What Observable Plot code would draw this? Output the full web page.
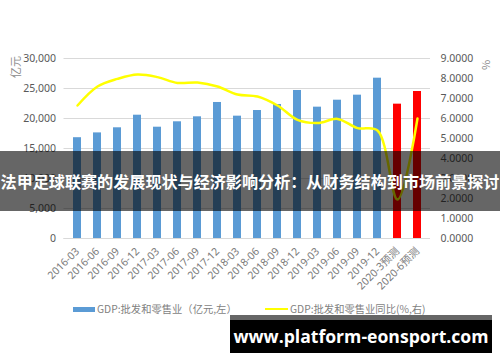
<!DOCTYPE html>
<html>
<head>
<meta charset="utf-8">
<script src="https://cdn.jsdelivr.net/npm/d3@7"></script>
<script src="https://cdn.jsdelivr.net/npm/@observablehq/plot@0.6"></script>
<style>
  body { margin: 0; background: #fff; }
  #wrap { position: relative; width: 500px; height: 362px; overflow: hidden; font-family: "Noto Sans CJK SC", "Noto Sans", sans-serif; }
  #band { position: absolute; left: 0; top: 151px; width: 500px; height: 60px; background: rgba(0,0,0,0.6);
          color: #fff; font-weight: bold; font-size: 16.1px; line-height: 60px; text-align: center; white-space: nowrap; letter-spacing: 0; font-family: "Noto Sans CJK SC", sans-serif; }
  #wm { position: absolute; left: 230px; top: 315px; width: 262px; height: 38px; background: #000; border-top: 5px solid #666; box-sizing: border-box;
        color: #fff; font-family: "Open Sans", "DejaVu Sans", sans-serif; font-weight: bold; font-size: 17.6px; line-height: 32px; text-align: center; white-space: nowrap; }
  .leg { position: absolute; top: 301px; font-size: 10.3px; color: #7f7f7f; white-space: nowrap; line-height: 16px; }
  .sw { position: absolute; }
  .axt { position: absolute; font-size: 11px; color: #8c8c8c; white-space: nowrap; }
</style>
</head>
<body>
<div id="wrap">
  <div id="chart"></div>
  <div class="axt" style="left:4px;top:59px;transform:rotate(-90deg);transform-origin:center;">亿元</div>
  <div class="axt" style="left:480px;top:57px;transform:rotate(-90deg);transform-origin:center;">%</div>
  <div class="sw" style="left:73px;top:307px;width:22px;height:5px;background:#5B9BD5;"></div>
  <div class="leg" style="left:97px;">GDP:批发和零售业（亿元,左）</div>
  <div class="sw" style="left:265px;top:308px;width:23px;height:2px;background:#FFFF00;"></div>
  <div class="leg" style="left:290px;">GDP:批发和零售业同比(%,右)</div>
  <div id="band">法甲足球联赛的发展现状与经济影响分析：从财务结构到市场前景探讨</div>
  <div id="wm">www.platform-eonsport.com</div>
</div>
<script>
const periods = ["2016-03","2016-06","2016-09","2016-12","2017-03","2017-06","2017-09","2017-12","2018-03","2018-06","2018-09","2018-12","2019-03","2019-06","2019-09","2019-12","2020-3预测","2020-6预测"];
const gdpValue = [16800,17600,18450,20550,18550,19450,20280,22670,20390,21330,22330,24670,21890,23050,23890,26720,22390,24500];
const gdpYoY = [6.65,7.6,7.98,8.2,8.07,7.78,7.8,7.6,7.2,7.1,6.65,5.93,5.77,5.98,5.52,5.4,1.95,6.0];
const isForecast = [false,false,false,false,false,false,false,false,false,false,false,false,false,false,false,false,true,true];
const leftTicks = [0,5000,10000,15000,20000,25000,30000];
const rightTicks = [0,1,2,3,4,5,6,7,8,9];

const ratio = 30000 / 9;
const rows = periods.map((p, i) => ({p, v: gdpValue[i], r: gdpYoY[i] * ratio, f: isForecast[i]}));

const chart = Plot.plot({
  width: 500,
  height: 362,
  marginTop: 58,
  marginBottom: 124,
  marginLeft: 63.5,
  marginRight: 70,
  style: {fontFamily: "'Noto Sans', 'Noto Sans CJK SC', sans-serif", fontSize: "10.5px", color: "#595959", background: "transparent"},
  x: {type: "band", domain: periods, paddingInner: 0.6, paddingOuter: 0.3, label: null},
  y: {domain: [0, 30000], label: null},
  marks: [
    Plot.gridY(leftTicks, {stroke: "#D9D9D9", strokeOpacity: 1}),
    Plot.ruleY([0], {stroke: "#D9D9D9"}),
    Plot.barY(rows, {x: "p", y: "v", fill: d => d.f ? "#FF0000" : "#5B9BD5"}),
    Plot.line(rows, {x: "p", y: "r", stroke: "#FFFF00", strokeWidth: 2.5, curve: "catmull-rom"}),
    Plot.axisY(leftTicks, {anchor: "left", tickSize: 0, tickPadding: 8, tickFormat: d => d3.format(",")(d), label: null}),
    Plot.axisY(rightTicks.map(d => d * ratio), {anchor: "right", tickSize: 0, tickPadding: 10, tickFormat: d => (d / ratio).toFixed(4), textAnchor: "start", label: null}),
    Plot.axisX({tickRotate: -45, tickSize: 0, tickPadding: 11, fill: "#7a7a7a", label: null})
  ]
});
document.getElementById("chart").appendChild(chart);
</script>
</body>
</html>
